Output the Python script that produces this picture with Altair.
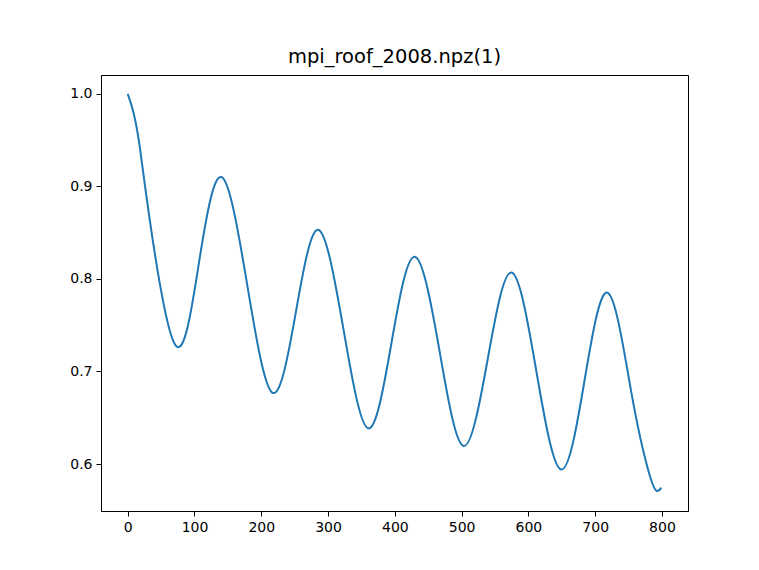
import altair as alt
import pandas as pd

TITLE = "mpi_roof_2008.npz(1)"

# curve samples (extrema and mid-crossings)
x_vals = [0, 9, 18, 33, 72, 107, 141, 179, 217, 252, 286, 323, 360, 395, 430, 467, 503, 539, 575, 612, 649, 684, 719, 754, 780, 792, 799]
y_vals = [1.0, 0.979, 0.943, 0.864, 0.728, 0.819, 0.910, 0.7935, 0.677, 0.765, 0.853, 0.746, 0.6386, 0.731, 0.824, 0.722, 0.6195, 0.713, 0.807, 0.70, 0.594, 0.69, 0.785, 0.678, 0.592, 0.571, 0.5745]

x_ticks = [0, 100, 200, 300, 400, 500, 600, 700, 800]
y_ticks = [0.6, 0.7, 0.8, 0.9, 1.0]

df = pd.DataFrame({"x": x_vals, "y": y_vals})

line = alt.Chart(df).mark_line(color="#1f77b4", strokeWidth=2, interpolate="natural").encode(
    x=alt.X("x:Q", scale=alt.Scale(domain=[-40, 839], nice=False, zero=False),
            axis=alt.Axis(values=x_ticks, title=None, format="d", grid=False)),
    y=alt.Y("y:Q", scale=alt.Scale(domain=[0.5492, 1.0205], nice=False, zero=False),
            axis=alt.Axis(values=y_ticks, title=None, format=".1f", grid=False)),
)

chart = line.properties(
    width=587,
    height=436,
    background="#ffffff",
    title=alt.TitleParams(TITLE, font="DejaVu Sans", fontSize=19.5, fontWeight="normal",
                          color="#000000", anchor="middle", offset=8),
    autosize=alt.AutoSizeParams(type="none"),
    padding={"left": 93, "top": 67, "right": 55, "bottom": 50},
).configure_view(
    stroke="#000000", strokeWidth=1
).configure_axis(
    grid=False,
    domain=True,
    domainColor="#000000",
    tickColor="#000000",
    tickSize=5,
    labelFont="DejaVu Sans",
    labelFontSize=14,
    labelColor="#000000",
    labelPadding=4,
)

chart.save("out.html", embed_options={"renderer": "svg", "actions": False})
